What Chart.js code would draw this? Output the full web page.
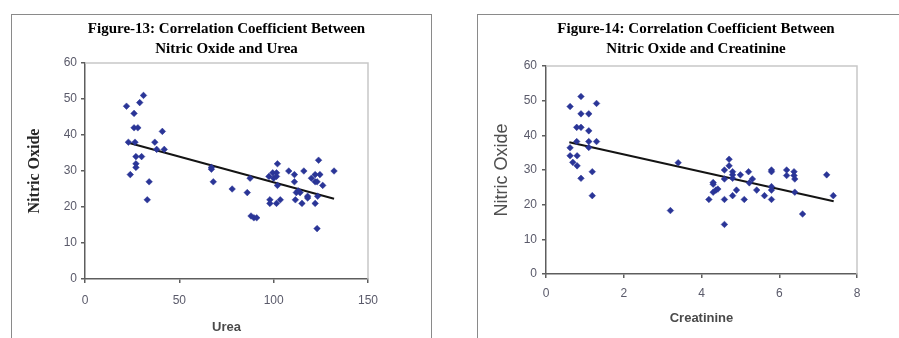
<!DOCTYPE html>
<html>
<head>
<meta charset="utf-8">
<script src="https://cdn.jsdelivr.net/npm/chart.js@4.4.1/dist/chart.umd.min.js"></script>
<style>
  html, body { margin: 0; padding: 0; background: #fff; overflow: hidden; }
  body { width: 899px; height: 338px; position: relative; }
  .frame { position: absolute; border: 1.5px solid #8a8a8a; box-sizing: border-box; }
  canvas { position: absolute; }
</style>
</head>
<body>
<div class="frame" style="left:11px; top:14px; width:421px; height:340px;"></div>
<div class="frame" style="left:477px; top:14px; width:440px; height:340px;"></div>
<canvas id="chart-urea" width="429" height="323" style="left:12px; top:15px;"></canvas>
<canvas id="chart-creat" width="436" height="323" style="left:478px; top:15px;"></canvas>
<script>
// Figure 13: urea vs nitric oxide
const ureaX = [22, 23, 24, 26, 26, 28, 26.5, 29, 31, 27, 30, 27, 27, 33, 34, 37, 38, 41, 42,
  67, 67, 68, 78, 86, 87.5, 88, 89.5, 91, 98, 98, 97.5, 99.5, 101.5, 101.5, 102, 102, 101.5, 103.5,
  108, 111, 111, 112, 111.5, 114, 115, 116, 118, 118, 120, 122, 124.5, 122, 123, 123.8, 126, 132,
  123.3, 122, 123, 100, 113];
const ureaNO = [48, 38, 29, 46, 42, 42, 38, 49, 51, 34, 34, 32, 31, 22, 27, 38, 36, 41, 36,
  31, 30.5, 27, 25, 24, 28, 17.5, 17, 17, 22, 21, 28.5, 29.5, 29.5, 28.5, 32, 26, 21, 22,
  30, 29, 27, 24, 22, 24, 21, 30, 23, 22.5, 28, 29, 29, 27, 27, 33, 26, 30,
  23, 21, 14, 28, 24.5];
const ureaTrendX = [22, 132];
const ureaTrendY = [38, 22.3];
const ureaTicks = [0, 50, 100, 150];

// Figure 14: creatinine vs nitric oxide
const creatX = [0.62, 0.9, 0.9, 1.1, 0.79, 0.9, 1.1, 1.3, 0.79, 1.1, 1.3, 1.1, 0.62, 0.62, 0.8, 0.69, 0.8, 0.9, 1.19, 1.19,
  3.2, 3.4,
  4.3, 4.3, 4.3, 4.37, 4.42, 4.19, 4.59, 4.59, 4.71, 4.71, 4.59, 4.8, 4.8, 4.8, 4.59, 4.8, 4.9, 5.0, 5.1,
  5.21, 5.31, 5.23, 5.42, 5.62, 5.8, 5.8, 5.8, 5.8, 5.8, 6.19, 6.19, 6.38, 6.38, 6.4, 6.4, 6.6, 7.22, 7.39];
const creatNO = [48.3, 51.2, 46.2, 46.2, 42.3, 42.3, 41.3, 49.2, 38.2, 38.2, 38.2, 36.5, 36.4, 34.1, 34.1, 32.2, 31.2, 27.6, 29.5, 22.6,
  18.3, 32.1,
  26.4, 25.9, 23.6, 24.2, 24.5, 21.5, 21.5, 14.3, 33.1, 31.2, 30, 29.5, 28.6, 27.6, 27.4, 22.6, 24.2, 28.6, 21.5,
  29.5, 27.4, 26.3, 24.2, 22.6, 30, 29.5, 25.2, 24.2, 21.5, 30, 28.4, 29.5, 28.4, 27.4, 23.6, 17.3, 28.6, 22.6];
const creatTrendX = [0.6, 7.4];
const creatTrendY = [38, 21];
const creatTicks = [0, 2, 4, 6, 8];

const noTicks = [0, 10, 20, 30, 40, 50, 60];

const tickFont = { family: "'Liberation Sans Narrow', 'Liberation Sans', Arial, sans-serif", size: 12 };
const tickColor = '#5a5a6a';
const axisColor = '#5e5e5e';

// light gray box on the top and right of the plot area
const plotBox = {
    id: 'plotBox',
    beforeDatasetsDraw(chart) {
        const { ctx, chartArea: a } = chart;
        ctx.save();
        ctx.strokeStyle = '#c8c8c8';
        ctx.lineWidth = 1.5;
        ctx.beginPath();
        ctx.moveTo(a.left, a.top);
        ctx.lineTo(a.right, a.top);
        ctx.lineTo(a.right, a.bottom);
        ctx.stroke();
        ctx.restore();
    }
};

function pairs(xs, ys) {
    return xs.map((x, i) => ({ x: x, y: ys[i] }));
}

function makeChart(id, o) {
    const ctx = document.getElementById(id).getContext('2d');
    return new Chart(ctx, {
        type: 'scatter',
        data: {
            datasets: [{
                data: pairs(o.xs, o.ys),
                pointStyle: 'rectRot',
                radius: 3.3,
                backgroundColor: '#2a3597',
                borderColor: '#2a3597',
                borderWidth: 0.5
            }, {
                type: 'line',
                data: pairs(o.trendX, o.trendY),
                borderColor: '#141414',
                borderWidth: 2,
                pointRadius: 0,
                fill: false
            }]
        },
        options: {
            responsive: false,
            animation: false,
            layout: { padding: 0 },
            plugins: {
                legend: { display: false },
                tooltip: { enabled: false },
                title: {
                    display: true,
                    text: o.title,
                    color: '#000',
                    font: { family: "'Liberation Serif', 'Times New Roman', serif", size: 15, weight: 'bold', lineHeight: '20px' },
                    padding: { top: 4.5, bottom: o.titleBottom }
                }
            },
            scales: {
                x: {
                    type: 'linear',
                    min: o.xTicks[0],
                    max: o.xTicks[o.xTicks.length - 1],
                    afterBuildTicks: (s) => { s.ticks = o.xTicks.map(v => ({ value: v })); },
                    afterFit: (s) => { s.height = o.xHeight; },
                    grid: { drawOnChartArea: false, drawTicks: true, tickLength: 4, color: axisColor, lineWidth: 1.5 },
                    border: { display: true, color: axisColor, width: 1.5 },
                    ticks: { font: tickFont, color: tickColor, padding: o.xTickPad, maxRotation: 0 },
                    title: { display: true, text: o.xTitle, color: '#4a4a4a', font: o.xTitleFont, padding: { top: 0, bottom: o.xTitlePad } }
                },
                y: {
                    type: 'linear',
                    min: 0,
                    max: 60,
                    afterBuildTicks: (s) => { s.ticks = noTicks.map(v => ({ value: v })); },
                    afterFit: (s) => { s.width = o.yWidth; },
                    grid: { drawOnChartArea: false, drawTicks: true, tickLength: 4, color: axisColor, lineWidth: 1.5 },
                    border: { display: true, color: axisColor, width: 1.5 },
                    ticks: { font: tickFont, color: tickColor, padding: o.yTickPad },
                    title: { display: true, text: 'Nitric Oxide', color: o.yTitleColor, font: o.yTitleFont, padding: { top: o.yTitlePad, bottom: 0 } }
                },
                // empty right-hand spacer so the title centres like the original
                ySpace: {
                    type: 'linear',
                    position: 'right',
                    min: 0,
                    max: 60,
                    afterFit: (s) => { s.width = o.rightSpace; },
                    grid: { display: false },
                    border: { display: false },
                    ticks: { display: false }
                }
            }
        },
        plugins: [plotBox]
    });
}

makeChart('chart-urea', {
    xs: ureaX, ys: ureaNO, trendX: ureaTrendX, trendY: ureaTrendY, xTicks: ureaTicks,
    title: ['Figure-13: Correlation Coefficient Between', 'Nitric Oxide and Urea'],
    titleBottom: 3.5, rightSpace: 73, xHeight: 59, yWidth: 73,
    xTickPad: 10, yTickPad: 4,
    xTitle: 'Urea', xTitlePad: 3,
    xTitleFont: { family: "'Liberation Sans', Arial, sans-serif", size: 13, weight: 'bold' },
    yTitleColor: '#262626', yTitlePad: 13,
    yTitleFont: { family: "'Liberation Serif', 'Times New Roman', serif", size: 16, weight: 'bold' }
});

makeChart('chart-creat', {
    xs: creatX, ys: creatNO, trendX: creatTrendX, trendY: creatTrendY, xTicks: creatTicks,
    title: ['Figure-14: Correlation Coefficient Between', 'Nitric Oxide and Creatinine'],
    titleBottom: 6.5, rightSpace: 57, xHeight: 64, yWidth: 68,
    xTickPad: 8, yTickPad: 5,
    xTitle: 'Creatinine', xTitlePad: 12,
    xTitleFont: { family: "'Liberation Sans', Arial, sans-serif", size: 13, weight: 'bold' },
    yTitleColor: '#505050', yTitlePad: 13,
    yTitleFont: { family: "'Liberation Sans', Arial, sans-serif", size: 18 }
});
</script>
</body>
</html>
